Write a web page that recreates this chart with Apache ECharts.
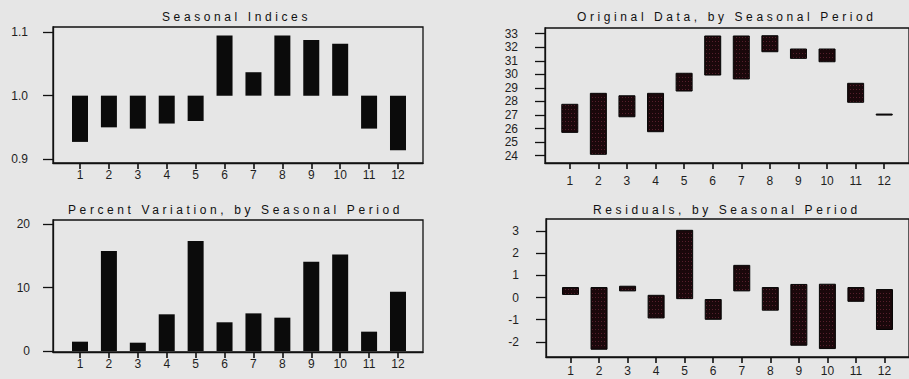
<!DOCTYPE html>
<html>
<head>
<meta charset="utf-8">
<script src="https://cdn.jsdelivr.net/npm/echarts@6/dist/echarts.min.js"></script>
<style>
  html, body { margin: 0; padding: 0; background: #e6e6e6; }
  #chart { width: 909px; height: 379px; }
</style>
</head>
<body>
<div id="chart"></div>
<script>
// Seasonal periods 1..12
const periods = [1, 2, 3, 4, 5, 6, 7, 8, 9, 10, 11, 12];

// Seasonal indices (bars hang from 1.0)
const seasonalIndex = [0.927, 0.950, 0.948, 0.956, 0.960, 1.095, 1.037, 1.095, 1.088, 1.082, 0.948, 0.914];

// Original data range (min / max) for each seasonal period
const originalMin = [25.72, 24.10, 26.87, 25.77, 28.77, 29.95, 29.66, 31.67, 31.18, 30.93, 27.94, 27.03];
const originalMax = [27.79, 28.60, 28.42, 28.60, 30.08, 32.83, 32.83, 32.85, 31.87, 31.87, 29.34, 27.07];

// Percent variation by seasonal period
const percentVariation = [1.47, 15.77, 1.31, 5.79, 17.35, 4.53, 5.94, 5.26, 14.09, 15.25, 3.05, 9.36];

// Residual range (min / max) for each seasonal period
const residualMin = [0.14, -2.33, 0.30, -0.92, -0.05, -0.98, 0.30, -0.57, -2.15, -2.30, -0.17, -1.44];
const residualMax = [0.45, 0.45, 0.51, 0.10, 3.03, -0.09, 1.45, 0.45, 0.59, 0.60, 0.45, 0.36];

// Tick labels
const indexTicks = [0.9, 1.0, 1.1];
const originalTicks = [24, 25, 26, 27, 28, 29, 30, 31, 32, 33];
const percentTicks = [0, 10, 20];
const residualTicks = [-2, -1, 0, 1, 2, 3];

const titles = [
  'Seasonal Indices',
  'Original Data, by Seasonal Period',
  'Percent Variation, by Seasonal Period',
  'Residuals, by Seasonal Period'
];

const FONT = '"Liberation Sans", Arial, sans-serif';
const INK = '#111';
const LABEL = '#1e1e1e';

// speckled dark-maroon fill used by the range boxes on the right
function dottedFill() {
  const c = document.createElement('canvas');
  c.width = 3; c.height = 4;
  const g = c.getContext('2d');
  g.fillStyle = '#1a080b';
  g.fillRect(0, 0, 3, 4);
  g.fillStyle = 'rgba(160,60,85,0.45)';
  g.fillRect(1, 1, 1, 1);
  return { image: c, repeat: 'repeat' };
}
const dots = dottedFill();

function rangeData(lo, hi) {
  return periods.map((p, i) => [p, lo[i], hi[i]]);
}
function baseData(base, vals) {
  return periods.map((p, i) => [p, base, vals[i]]);
}

function rangeBars(fill, stroke) {
  return function (params, api) {
    const x = api.value(0);
    const a = api.coord([x, api.value(1)]);
    const b = api.coord([x, api.value(2)]);
    const w = 16;
    const top = Math.min(a[1], b[1]);
    const h = Math.abs(a[1] - b[1]);
    return {
      type: 'rect',
      shape: { x: a[0] - w / 2, y: top, width: w, height: Math.max(h, 1) },
      style: { fill: fill, stroke: stroke, lineWidth: stroke ? 1 : 0 }
    };
  };
}

function xAxisFor(grid, min, max, margin) {
  return {
    type: 'value', gridIndex: grid, min: min, max: max,
    axisLine: { show: true, onZero: false, lineStyle: { color: INK, width: 1.3 } },
    axisTick: { show: true, length: 6, customValues: periods, lineStyle: { color: INK, width: 1.6 } },
    axisLabel: { customValues: periods, margin: margin, color: LABEL, fontSize: 12, fontFamily: FONT },
    splitLine: { show: false }
  };
}
function yAxisFor(grid, min, max, ticks, margin, fmt) {
  return {
    type: 'value', gridIndex: grid, min: min, max: max,
    axisLine: { show: true, onZero: false, lineStyle: { color: INK, width: 1.3 } },
    axisTick: { show: true, length: 10, customValues: ticks, lineStyle: { color: INK, width: 1.3 } },
    axisLabel: { customValues: ticks, margin: margin, color: LABEL, fontSize: 12, fontFamily: FONT,
                 formatter: fmt || (v => String(v)) },
    splitLine: { show: false }
  };
}

function titleAt(text, x, top) {
  return {
    text: text, left: x, top: top, textAlign: 'left', padding: 0,
    textStyle: { fontSize: 12, fontWeight: 'normal', color: INK, fontFamily: FONT }
  };
}

const gridStyle = { show: true, borderColor: INK, borderWidth: 1.3, backgroundColor: 'transparent' };

const chart = echarts.init(document.getElementById('chart'), null, { renderer: 'svg', width: 909, height: 379 });

chart.setOption({
  backgroundColor: '#e6e6e6',
  animation: false,
  title: [
    titleAt(titles[0], 162, 11),
    titleAt(titles[1], 577, 11),
    titleAt(titles[2], 68, 204),
    titleAt(titles[3], 593, 204)
  ],
  grid: [
    Object.assign({ left: 53, top: 27, width: 370, height: 136 }, gridStyle),
    Object.assign({ left: 545, top: 28, width: 367, height: 135 }, gridStyle),
    Object.assign({ left: 53, top: 220, width: 370, height: 132 }, gridStyle),
    Object.assign({ left: 546, top: 219, width: 366, height: 138 }, gridStyle)
  ],
  xAxis: [
    xAxisFor(0, 0.066, 12.865, 6),
    xAxisFor(1, 0.133, 12.867, 12),
    xAxisFor(2, 0.066, 12.865, 6),
    xAxisFor(3, 0.142, 12.859, 8)
  ],
  yAxis: [
    yAxisFor(0, 0.8937, 1.1084, indexTicks, 25, v => v.toFixed(1)),
    yAxisFor(1, 23.46, 33.42, originalTicks, 27),
    yAxisFor(2, -0.16, 20.68, percentTicks, 23),
    yAxisFor(3, -2.68, 3.54, residualTicks, 27)
  ],
  series: [
    { type: 'custom', xAxisIndex: 0, yAxisIndex: 0, data: baseData(1.0, seasonalIndex),
      renderItem: rangeBars('#0b0b0b', null), encode: { x: 0, y: [1, 2] } },
    { type: 'custom', xAxisIndex: 1, yAxisIndex: 1, data: rangeData(originalMin, originalMax),
      renderItem: rangeBars(dots, '#050505'), encode: { x: 0, y: [1, 2] } },
    { type: 'custom', xAxisIndex: 2, yAxisIndex: 2, data: baseData(0, percentVariation),
      renderItem: rangeBars('#0b0b0b', null), encode: { x: 0, y: [1, 2] } },
    { type: 'custom', xAxisIndex: 3, yAxisIndex: 3, data: rangeData(residualMin, residualMax),
      renderItem: rangeBars(dots, '#050505'), encode: { x: 0, y: [1, 2] } }
  ]
});

// widen the tracking of the panel headings
function spaceTitles() {
  document.querySelectorAll('#chart text').forEach(t => {
    if (titles.indexOf(t.textContent) >= 0) {
      t.setAttribute('letter-spacing', '3.6');
      t.style.letterSpacing = '3.6px';
    }
  });
}
chart.on('finished', spaceTitles);
spaceTitles();
</script>
</body>
</html>
